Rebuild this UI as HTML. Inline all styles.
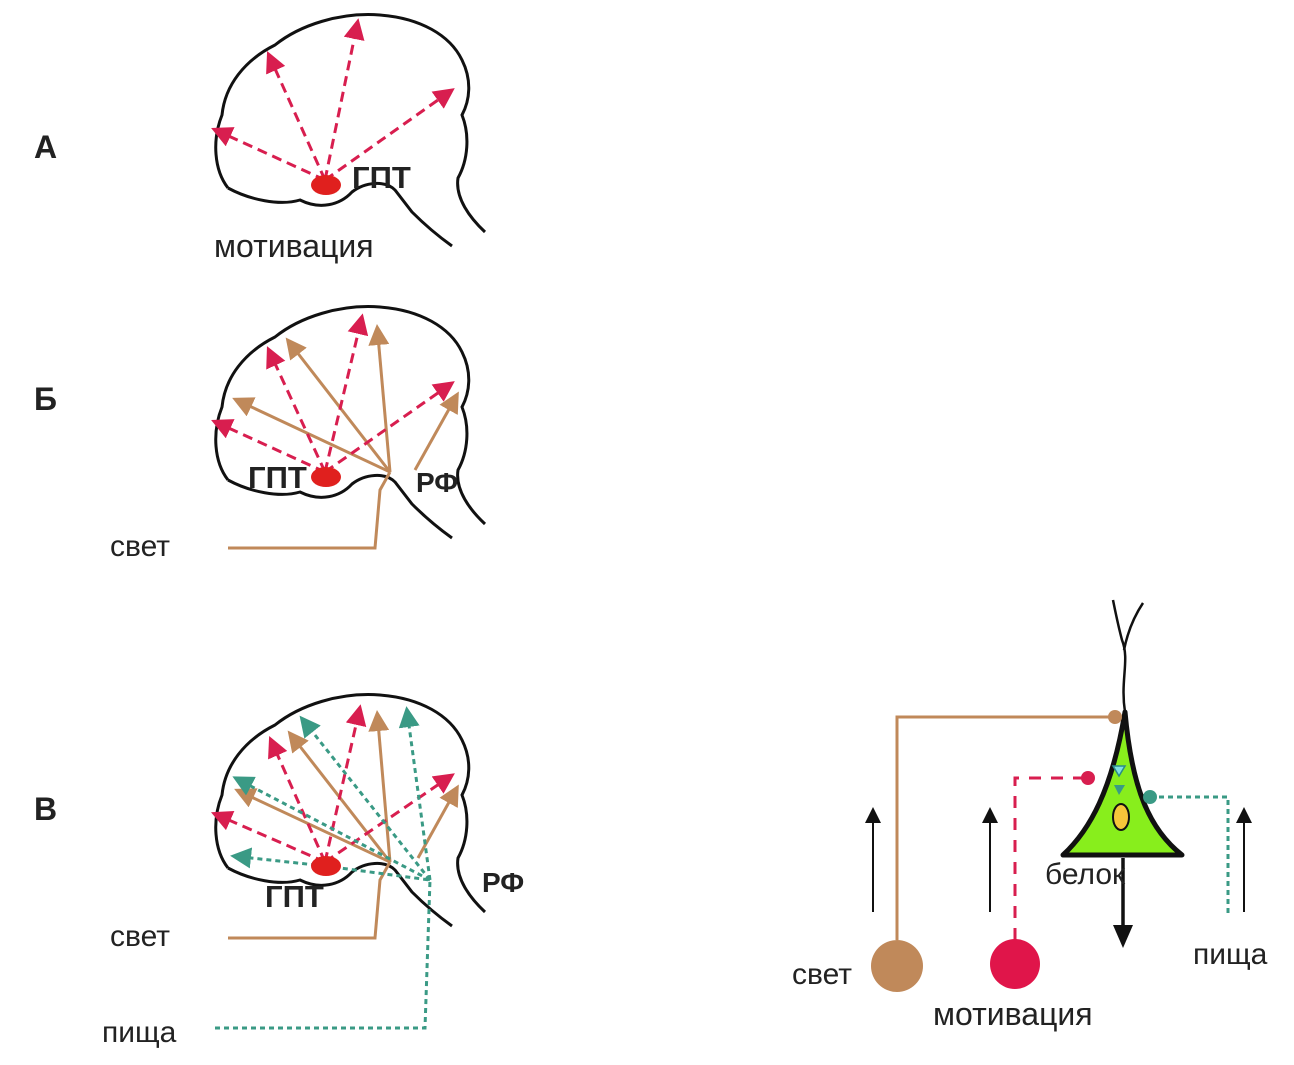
<!DOCTYPE html>
<html><head><meta charset="utf-8"><style>
body{margin:0;background:#fff}
svg{display:block}
text{font-family:"Liberation Sans",sans-serif;fill:#222}
</style></head><body>
<svg width="1294" height="1065" viewBox="0 0 1294 1065">
<defs>
<marker id="mr" markerWidth="7" markerHeight="7" refX="3" refY="3.5" orient="auto" markerUnits="strokeWidth"><path d="M0,0 L7,3.5 L0,7 Z" fill="#d81e4f"/></marker>
<marker id="mt" markerWidth="7" markerHeight="7" refX="3" refY="3.5" orient="auto" markerUnits="strokeWidth"><path d="M0,0 L7,3.5 L0,7 Z" fill="#c0895a"/></marker>
<marker id="mg" markerWidth="7" markerHeight="7" refX="3" refY="3.5" orient="auto" markerUnits="strokeWidth"><path d="M0,0 L7,3.5 L0,7 Z" fill="#3a9a85"/></marker>
<marker id="mk" markerWidth="8" markerHeight="8" refX="4" refY="4" orient="auto" markerUnits="strokeWidth"><path d="M0,0 L8,4 L0,8 Z" fill="#111"/></marker>
<g id="brain" fill="none" stroke="#111" stroke-width="3">
<path d="M228,188 C214,170 212,140 222,115 C225,85 245,60 275,45 C300,25 340,12 380,15 C420,18 450,35 462,60 C472,80 470,100 462,115 C470,135 468,160 458,178 C455,198 470,218 485,232"/>
<path d="M228,188 C250,200 280,206 300,200 C320,210 340,205 352,192 C365,182 385,180 395,190 L412,212 C425,225 438,236 452,246"/>
</g>
</defs>

<text x="34" y="158" font-size="32" font-weight="bold">А</text>
<text x="34" y="410" font-size="32" font-weight="bold">Б</text>
<text x="34" y="820" font-size="32" font-weight="bold">В</text>

<!-- A -->
<use href="#brain"/>
<g stroke="#d81e4f" stroke-width="3" stroke-dasharray="10,6" fill="none">
<line x1="325" y1="180" x2="222" y2="133" marker-end="url(#mr)"/>
<line x1="325" y1="180" x2="272" y2="62" marker-end="url(#mr)"/>
<line x1="325" y1="180" x2="356" y2="30" marker-end="url(#mr)"/>
<line x1="325" y1="180" x2="445" y2="95" marker-end="url(#mr)"/>
</g>
<ellipse cx="326" cy="185" rx="15" ry="10" fill="#e0201e"/>
<text x="352" y="188" font-size="31" font-weight="bold">ГПТ</text>
<text x="214" y="257" font-size="32">мотивация</text>

<!-- Б -->
<use href="#brain" transform="translate(0,292)"/>
<g stroke="#c0895a" stroke-width="3" fill="none">
<line x1="390" y1="472" x2="243" y2="403" marker-end="url(#mt)"/>
<line x1="390" y1="472" x2="293" y2="347" marker-end="url(#mt)"/>
<line x1="390" y1="472" x2="378" y2="336" marker-end="url(#mt)"/>
<line x1="415" y1="470" x2="453" y2="402" marker-end="url(#mt)"/>
<polyline points="228,548 375,548 380,490 390,472"/>
</g>
<g stroke="#d81e4f" stroke-width="3" stroke-dasharray="10,6" fill="none">
<line x1="325" y1="472" x2="222" y2="425" marker-end="url(#mr)"/>
<line x1="325" y1="472" x2="272" y2="357" marker-end="url(#mr)"/>
<line x1="325" y1="472" x2="360" y2="325" marker-end="url(#mr)"/>
<line x1="325" y1="472" x2="445" y2="388" marker-end="url(#mr)"/>
</g>
<ellipse cx="326" cy="477" rx="15" ry="10" fill="#e0201e"/>
<text x="248" y="488" font-size="31" font-weight="bold">ГПТ</text>
<text x="416" y="492" font-size="28" font-weight="bold">РФ</text>
<text x="110" y="556" font-size="30">свет</text>

<!-- В -->
<use href="#brain" transform="translate(0,680)"/>
<g stroke="#c0895a" stroke-width="3" fill="none">
<line x1="390" y1="862" x2="245" y2="794" marker-end="url(#mt)"/>
<line x1="390" y1="862" x2="295" y2="740" marker-end="url(#mt)"/>
<line x1="390" y1="862" x2="378" y2="722" marker-end="url(#mt)"/>
<line x1="418" y1="858" x2="453" y2="795" marker-end="url(#mt)"/>
<polyline points="228,938 375,938 380,880 390,862"/>
</g>
<g stroke="#d81e4f" stroke-width="3" stroke-dasharray="10,6" fill="none">
<line x1="325" y1="862" x2="222" y2="817" marker-end="url(#mr)"/>
<line x1="325" y1="862" x2="274" y2="747" marker-end="url(#mr)"/>
<line x1="325" y1="862" x2="358" y2="716" marker-end="url(#mr)"/>
<line x1="325" y1="862" x2="445" y2="780" marker-end="url(#mr)"/>
</g>
<g stroke="#3a9a85" stroke-width="3" stroke-dasharray="5,4" fill="none">
<line x1="430" y1="880" x2="243" y2="782" marker-end="url(#mg)"/>
<line x1="430" y1="880" x2="307" y2="725" marker-end="url(#mg)"/>
<line x1="430" y1="880" x2="408" y2="718" marker-end="url(#mg)"/>
<line x1="325" y1="866" x2="242" y2="857" marker-end="url(#mg)"/>
<line x1="325" y1="866" x2="430" y2="880"/>
<polyline points="215,1028 425,1028 430,880"/>
</g>
<ellipse cx="326" cy="866" rx="15" ry="10" fill="#e0201e"/>
<text x="265" y="907" font-size="31" font-weight="bold">ГПТ</text>
<text x="482" y="892" font-size="28" font-weight="bold">РФ</text>
<text x="110" y="946" font-size="30">свет</text>
<text x="102" y="1042" font-size="30">пища</text>

<!-- neuron -->
<g stroke="#111" stroke-width="2.5" fill="none">
<path d="M1125,712 C1120,680 1130,660 1122,640 C1118,625 1115,610 1113,600"/>
<path d="M1124,650 C1128,630 1135,615 1143,603"/>
</g>
<path d="M1125,712 C1112,790 1090,830 1063,855 L1182,855 C1150,830 1132,790 1125,712 Z" fill="#88ee1c" stroke="#111" stroke-width="5" stroke-linejoin="round"/>
<ellipse cx="1121" cy="817" rx="8" ry="13" fill="#f5c63a" stroke="#111" stroke-width="2"/>
<path d="M1113,766 L1125,766 L1119,776 Z" fill="#7fe0e0" stroke="#2a8a8a" stroke-width="1.5"/>
<path d="M1114,785 L1125,785 L1119,795 Z" fill="#3a9a85"/>
<polyline points="897,940 897,717 1115,717" fill="none" stroke="#c0895a" stroke-width="3"/>
<circle cx="1115" cy="717" r="7" fill="#c0895a"/>
<circle cx="897" cy="966" r="26" fill="#c0895a"/>
<polyline points="1015,940 1015,778 1088,778" fill="none" stroke="#d81e4f" stroke-width="3" stroke-dasharray="12,10"/>
<circle cx="1088" cy="778" r="7" fill="#d81e4f"/>
<circle cx="1015" cy="964" r="25" fill="#e0154a"/>
<polyline points="1150,797 1228,797 1228,915" fill="none" stroke="#3a9a85" stroke-width="3" stroke-dasharray="5,4"/>
<circle cx="1150" cy="797" r="7" fill="#3a9a85"/>
<g stroke="#111" stroke-width="2">
<line x1="873" y1="912" x2="873" y2="815" marker-end="url(#mk)"/>
<line x1="990" y1="912" x2="990" y2="815" marker-end="url(#mk)"/>
<line x1="1244" y1="912" x2="1244" y2="815" marker-end="url(#mk)"/>
</g>
<line x1="1123" y1="858" x2="1123" y2="930" stroke="#111" stroke-width="3.5"/>
<path d="M1113,925 L1133,925 L1123,948 Z" fill="#111"/>
<text x="1045" y="884" font-size="30">белок</text>
<text x="792" y="984" font-size="30">свет</text>
<text x="933" y="1025" font-size="32">мотивация</text>
<text x="1193" y="964" font-size="30">пища</text>
</svg>
</body></html>
